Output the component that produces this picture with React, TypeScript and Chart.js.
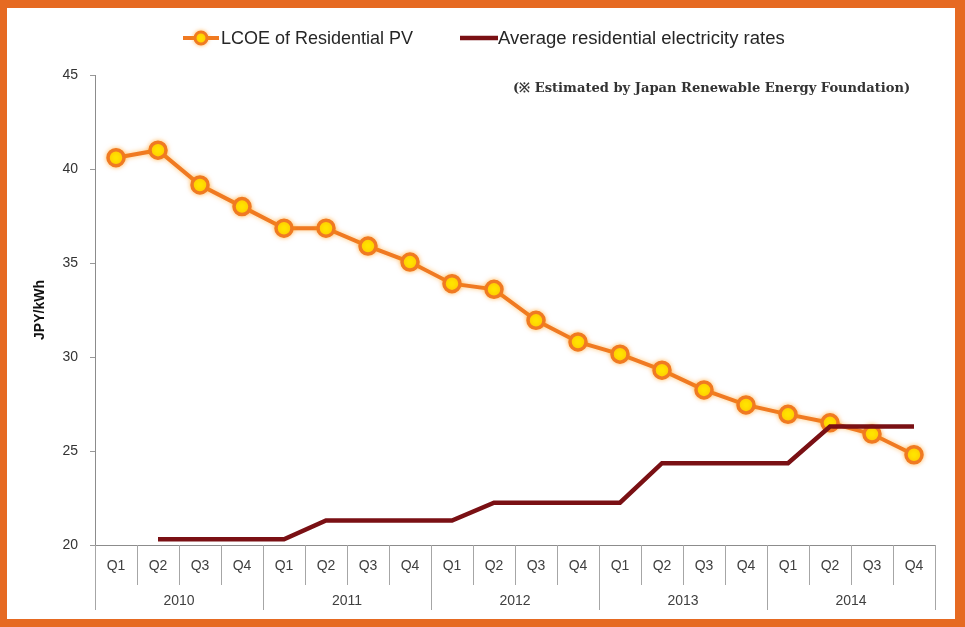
import React, { useEffect, useRef } from "react";
import { Chart, registerables } from "chart.js";
Chart.register(...registerables);

const quarters = ["Q1", "Q2", "Q3", "Q4"];
const years = ["2010", "2011", "2012", "2013", "2014"];
const categories = years.flatMap((y) => quarters.map((q) => `${y} ${q}`));
const lcoe = [40.6, 41.0, 39.15, 38.0, 36.85, 36.85, 35.9, 35.05, 33.9, 33.6, 31.95, 30.8, 30.15, 29.3, 28.25, 27.45, 26.95, 26.5, 25.9, 24.8];
const rates = [null, 20.3, 20.3, 20.3, 20.3, 21.3, 21.3, 21.3, 21.3, 22.25, 22.25, 22.25, 22.25, 24.35, 24.35, 24.35, 24.35, 26.3, 26.3, 26.3];
const yMin = 20;
const yMax = 45;
const yStep = 5;
const seriesNames = ["LCOE of Residential PV", "Average residential electricity rates"];
const yTitle = "JPY/kWh";
const note = "(\u203B Estimated by Japan Renewable Energy Foundation)";

const ORANGE = "#F07A22";
const YELLOW = "#FFE600";
const MAROON = "#7A1014";
const BORDER = "#E66A22";
const SANS = "'Liberation Sans', Arial, sans-serif";

function fitFont(ctx: CanvasRenderingContext2D, text: string, family: string, weight: string, base: number, target: number) {
  ctx.font = `${weight} ${base}px ${family}`;
  const w = ctx.measureText(text).width;
  const size = (base * target) / w;
  ctx.font = `${weight} ${size.toFixed(2)}px ${family}`;
}

const decorPlugin = {
  id: "decor",
  beforeDatasetDraw(chart: any, args: any) {
    if (args.index === 0) {
      chart.ctx.save();
      chart.ctx.shadowColor = "rgba(255,150,0,0.55)";
      chart.ctx.shadowBlur = 5;
    }
  },
  afterDatasetDraw(chart: any, args: any) {
    if (args.index === 0) chart.ctx.restore();
  },
  afterDraw(chart: any) {
    const ctx: CanvasRenderingContext2D = chart.ctx;
    const { left, right, bottom } = chart.chartArea;
    const xs = chart.scales.x;
    const n = categories.length;
    const w = (right - left) / n;
    ctx.save();
    // x axis line
    ctx.strokeStyle = "#8c8c8c";
    ctx.lineWidth = 1;
    ctx.beginPath();
    ctx.moveTo(left, Math.round(bottom) + 0.5);
    ctx.lineTo(right, Math.round(bottom) + 0.5);
    ctx.stroke();
    // separators
    ctx.strokeStyle = "#a6a6a6";
    for (let i = 0; i <= n; i++) {
      const x = Math.round(xs.getPixelForValue(Math.min(i, n - 1)) + (i === n ? w / 2 : -w / 2)) + 0.5;
      const end = i % 4 === 0 ? bottom + 65 : bottom + 40;
      ctx.beginPath();
      ctx.moveTo(x, bottom);
      ctx.lineTo(x, end);
      ctx.stroke();
    }
    // labels
    ctx.fillStyle = "#404040";
    ctx.font = `14px ${SANS}`;
    ctx.textAlign = "center";
    ctx.textBaseline = "middle";
    for (let i = 0; i < n; i++) {
      ctx.fillText(quarters[i % 4], xs.getPixelForValue(i), bottom + 21);
    }
    years.forEach((y, g) => {
      const cx = (xs.getPixelForValue(g * 4) + xs.getPixelForValue(g * 4 + 3)) / 2;
      ctx.fillText(y, cx, bottom + 56);
    });
    // y title
    ctx.save();
    ctx.translate(40, 310);
    ctx.rotate(-Math.PI / 2);
    ctx.font = `bold 14px ${SANS}`;
    ctx.fillStyle = "#111";
    ctx.fillText(yTitle, 0, 0);
    ctx.restore();
    // legend
    ctx.lineWidth = 4;
    ctx.strokeStyle = ORANGE;
    ctx.beginPath();
    ctx.moveTo(183, 38);
    ctx.lineTo(219, 38);
    ctx.stroke();
    ctx.save();
    ctx.shadowColor = "rgba(255,150,0,0.55)";
    ctx.shadowBlur = 4;
    ctx.beginPath();
    ctx.arc(201, 38, 6, 0, Math.PI * 2);
    ctx.fillStyle = YELLOW;
    ctx.fill();
    ctx.lineWidth = 3;
    ctx.stroke();
    ctx.restore();
    ctx.strokeStyle = MAROON;
    ctx.lineWidth = 4.5;
    ctx.beginPath();
    ctx.moveTo(460, 38);
    ctx.lineTo(498, 38);
    ctx.stroke();
    ctx.fillStyle = "#262626";
    ctx.textAlign = "left";
    fitFont(ctx, seriesNames[0], SANS, "", 15, 192);
    ctx.fillText(seriesNames[0], 221, 39);
    fitFont(ctx, seriesNames[1], SANS, "", 15, 287);
    ctx.fillText(seriesNames[1], 498, 39);
    // note
    ctx.fillStyle = "#333";
    fitFont(ctx, note, "'DejaVu Serif', serif", "bold", 12, 397);
    ctx.fillText(note, 513, 89);
    // border
    ctx.fillStyle = BORDER;
    const W = chart.width, H = chart.height;
    ctx.fillRect(0, 0, W, 8);
    ctx.fillRect(0, 0, 7, H);
    ctx.fillRect(W - 10, 0, 10, H);
    ctx.fillRect(0, H - 8, W, 8);
    ctx.restore();
  },
};

export default function App() {
  const ref = useRef<HTMLCanvasElement | null>(null);
  useEffect(() => {
    if (!ref.current) return;
    const chart = new Chart(ref.current, {
      type: "line",
      data: {
        labels: categories,
        datasets: [
          {
            label: seriesNames[0],
            data: lcoe,
            borderColor: ORANGE,
            borderWidth: 4,
            pointRadius: 8,
            pointBorderWidth: 3.5,
            pointBorderColor: ORANGE,
            pointBackgroundColor: YELLOW,
            tension: 0,
            order: 2,
          },
          {
            label: seriesNames[1],
            data: rates,
            borderColor: MAROON,
            borderWidth: 4.5,
            pointRadius: 0,
            tension: 0,
            order: 1,
          },
        ],
      },
      options: {
        responsive: false,
        animation: false,
        layout: { padding: { left: 0, right: 30, top: 75, bottom: 82 } },
        plugins: { legend: { display: false }, tooltip: { enabled: false }, title: { display: false } },
        scales: {
          x: { type: "category", display: false, offset: true },
          y: {
            min: yMin,
            max: yMax,
            ticks: { stepSize: yStep, color: "#333", font: { size: 14, family: SANS }, padding: 12 },
            grid: { drawOnChartArea: false, drawTicks: true, tickLength: 5, color: "#999" },
            border: { color: "#8c8c8c", width: 1 },
            afterFit: (s: any) => {
              s.width = 95;
            },
          },
        },
      },
      plugins: [decorPlugin],
    });
    return () => chart.destroy();
  }, []);
  return (
    <div style={{ position: "absolute", left: 0, top: 0, width: 965, height: 627, background: "#fff" }}>
      <canvas ref={ref} width={965} height={627} style={{ display: "block" }} />
    </div>
  );
}
